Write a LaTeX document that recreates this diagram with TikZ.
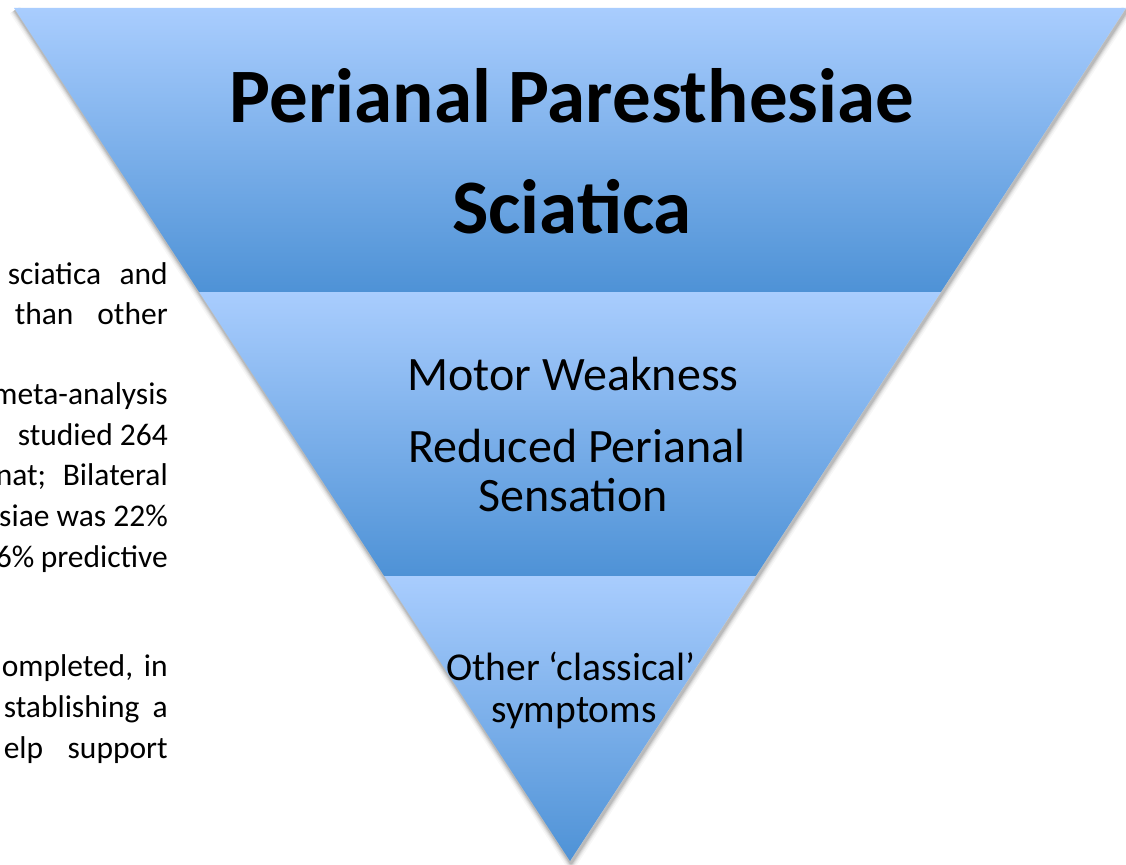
\documentclass[tikz,border=0pt]{standalone}
\usepackage{fontspec}
\setmainfont{Carlito}
\definecolor{bandtop}{HTML}{A9CDFE}
\definecolor{bandbot}{HTML}{4E92D6}
\begin{document}
\begin{tikzpicture}[x=1pt,y=-1pt,
  bandshade/.style={top color=bandtop,bottom color=bandbot,draw=none},
  titletext/.style={anchor=base,inner sep=0pt,font=\fontsize{77}{92}\selectfont\bfseries},
  midtext/.style={anchor=base,inner sep=0pt,font=\fontsize{48}{58}\selectfont},
  lowtext/.style={anchor=base,inner sep=0pt,font=\fontsize{39.5}{47}\selectfont},
  lefttext/.style={anchor=base east,inner sep=0pt,font=\fontsize{31.5}{38}\selectfont}]
\useasboundingbox (0,0) rectangle (1126,864);
\fill[white] (0,0) rectangle (1126,864);
% soft shadow
\foreach \w/\o in {12/0.03,9/0.04,7/0.05,5/0.07,3/0.1}{
  \draw[line width=\w pt,black,opacity=\o,line join=round] (15,10) -- (571,863) -- (1127,10);
}
% bands
\shade[bandshade] (14,8) -- (1126,8) -- (940.9,292) -- (199.1,292) -- cycle;
\shade[bandshade] (199.1,292) -- (940.9,292) -- (755.8,576) -- (384.2,576) -- cycle;
\shade[bandshade] (384.2,576) -- (755.8,576) -- (570,861) -- cycle;
% texts in the triangle
\node[titletext] (t1) at (572,122) {Perianal Paresthesiae};
\node[titletext] (t2) at (572,233) {Sciatica};
\node[midtext] (m1) at (573,390) {Motor Weakness};
\node[midtext] (m2) at (577,462) {Reduced Perianal};
\node[midtext] (m3) at (573,511) {Sensation};
\node[lowtext] (b1) at (571,680) {Other ‘classical’};
\node[lowtext] (b2) at (574,722) {symptoms};
% left text fragments
\node[lefttext] (l1) at (168,284) {\makebox[160pt][s]{sciatica and}};
\node[lefttext] (l2) at (168,324) {\makebox[153pt][s]{than other}};
\node[lefttext] (l3) at (168,404) {meta-analysis};
\node[lefttext] (l4) at (168,445) {\makebox[150pt][s]{studied 264}};
\node[lefttext] (l5) at (168,485) {\makebox[172pt][s]{nat; Bilateral}};
\node[lefttext] (l6) at (168,526) {siae was 22\%};
\node[lefttext] (l7) at (168,567) {\makebox[172pt][s]{6\% predictive}};
\node[lefttext] (l8) at (168,676) {\makebox[166pt][s]{ompleted, in}};
\node[lefttext] (l9) at (168,717) {\makebox[164pt][s]{stablishing a}};
\node[lefttext] (l10) at (168,758) {\makebox[164pt][s]{elp support}};
\end{tikzpicture}
\end{document}
